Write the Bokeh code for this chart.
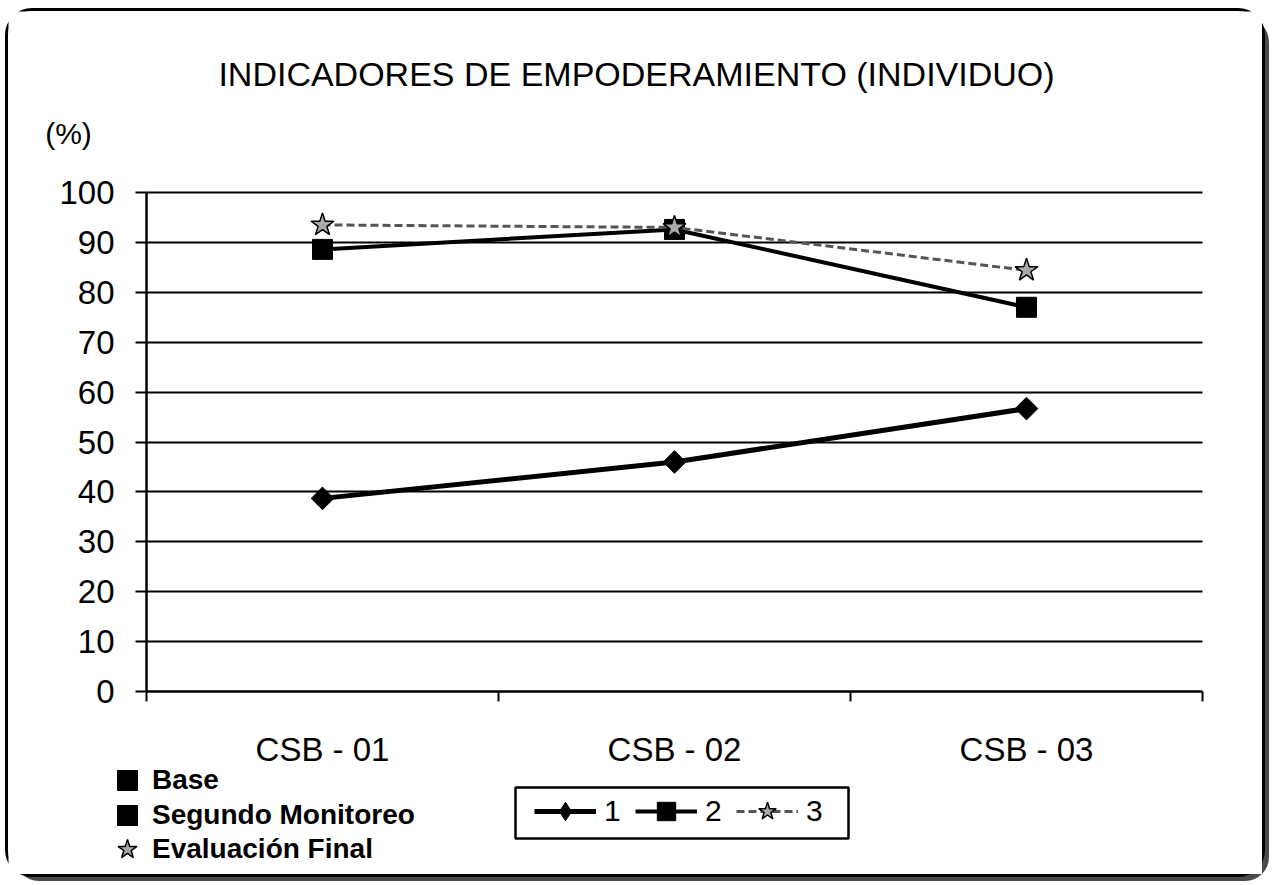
import math
from bokeh.plotting import figure
from bokeh.models import (Range1d, FixedTicker, Legend, LegendItem, Label, BoxAnnotation,
                          LinearAxis, Grid)
from bokeh.embed import file_html
from bokeh.resources import INLINE

# ---- data ----
categories = ["CSB - 01", "CSB - 02", "CSB - 03"]
serie_1 = [38.7, 46.0, 56.7]
serie_2 = [88.6, 92.6, 77.0]
serie_3 = [93.5, 93.0, 84.4]
series_names = ["1", "2", "3"]
estados = ["Base", "Segundo Monitoreo", "Evaluación Final"]
y_ticks = [0, 10, 20, 30, 40, 50, 60, 70, 80, 90, 100]
title_text = "INDICADORES DE EMPODERAMIENTO (INDIVIDUO)"
unit_text = "(%)"

FONT = "Liberation Sans"

# ---- page layout (pixels) ----
W, H = 1254, 863            # canvas size
PX_L, PX_R = 138, 1194      # plot area left / right inside canvas
PX_T, PX_B = 181, 680       # plot area top (y=100) / bottom (y=0) inside canvas

n = len(categories)
ux = (PX_R - PX_L) / n
uy = (PX_B - PX_T) / 100.0
x_range = Range1d(-PX_L / ux, n + (W - PX_R) / ux)
y_range = Range1d(-(H - PX_B) / uy, 100 + PX_T / uy)

x_pos = [i + 0.5 for i in range(n)]
bounds = [i for i in range(n + 1)]

p = figure(width=W, height=H, output_backend="svg", toolbar_location=None,
           x_axis_type=None, y_axis_type=None, x_range=x_range, y_range=y_range,
           min_border=0, min_border_left=0, min_border_right=0,
           min_border_top=0, min_border_bottom=0)
p.title.text = ""
p.background_fill_color = "white"
p.border_fill_color = "white"
p.outline_line_color = None
p.styles = {"outline": "3px solid black", "border-radius": "24px",
            "box-shadow": "7px 7px 0 0 #4a4a4a",
            "margin-left": "8px", "margin-top": "11px"}

# x axis (category axis drawn at y = 0)
xa = LinearAxis(fixed_location=0, bounds=(0, n),
                ticker=FixedTicker(ticks=x_pos, minor_ticks=bounds))
xa.major_label_overrides = {float(x): c for x, c in zip(x_pos, categories)}
xa.major_tick_line_color = None
xa.major_tick_out = 0
xa.major_tick_in = 0
xa.minor_tick_out = 10
xa.minor_tick_in = 0
xa.minor_tick_line_color = "black"
xa.minor_tick_line_width = 2
xa.axis_line_color = "black"
xa.axis_line_width = 2.5
xa.major_label_text_font = FONT
xa.major_label_text_font_size = "33px"
xa.major_label_text_color = "black"
xa.major_label_standoff = 29
p.add_layout(xa, "below")

# y axis drawn at x = 0
ya = LinearAxis(fixed_location=0, bounds=(0, 100),
                ticker=FixedTicker(ticks=y_ticks, minor_ticks=[]))
ya.major_tick_out = 11
ya.major_tick_in = 0
ya.major_tick_line_width = 2
ya.major_tick_line_color = "black"
ya.minor_tick_line_color = None
ya.axis_line_color = "black"
ya.axis_line_width = 2.5
ya.major_label_text_font = FONT
ya.major_label_text_font_size = "33px"
ya.major_label_text_color = "black"
ya.major_label_standoff = 21
p.add_layout(ya, "left")

grid = Grid(dimension=1, ticker=FixedTicker(ticks=y_ticks[1:]),
            grid_line_color="black", grid_line_width=2)
try:
    grid.cross_bounds = (0, n)
    p.add_layout(grid)
except Exception:
    ya.major_tick_in = int(round(PX_R - PX_L))

# ---- series ----
r1l = p.line(x_pos, serie_1, line_color="black", line_width=5)
r1m = p.scatter(x_pos, serie_1, marker="square", size=16, angle=math.pi / 4,
                fill_color="black", line_color="black")
# diamond drawn inside the rotated square (gives the legend its diamond glyph)
r1d = p.scatter(x_pos, serie_1, marker="diamond", size=18,
                fill_color="black", line_color="black")
r2l = p.line(x_pos, serie_2, line_color="black", line_width=4)
r2m = p.scatter(x_pos, serie_2, marker="square", size=20,
                fill_color="black", line_color="black")
r3l = p.line(x_pos, serie_3, line_color="#555555", line_width=3, line_dash="8 4")
r3m = p.scatter(x_pos, serie_3, marker="star", size=24,
                fill_color="#aaaaaa", line_color="black", line_width=1.5)

# ---- title and unit ----
p.add_layout(Label(x=628, y=801, x_units="screen", y_units="screen", text=title_text,
                   text_font=FONT, text_font_size="34px", text_color="black",
                   text_align="center", text_baseline="middle"))
p.add_layout(Label(x=60, y=741, x_units="screen", y_units="screen", text=unit_text,
                   text_font=FONT, text_font_size="30px", text_color="black",
                   text_align="center", text_baseline="middle"))

# ---- state legend (bold, left) : one legend per row ----
state_renderers = [r2m, r2m, r3m]
state_rows_y = [69, 34, 0]
for label, rend, yy in zip(estados, state_renderers, state_rows_y):
    lg = Legend(items=[LegendItem(label=label, renderers=[rend])],
                location=(94, yy), orientation="vertical",
                border_line_color=None, background_fill_alpha=0,
                label_text_font=FONT, label_text_font_size="28px",
                label_text_font_style="bold", label_text_color="black",
                glyph_width=50, glyph_height=50, label_standoff=0,
                spacing=0, padding=0, margin=0)
    p.add_layout(lg, "center")

# ---- boxed series legend ----
p.add_layout(BoxAnnotation(left=507, right=840, bottom=36, top=87,
                           left_units="screen", right_units="screen",
                           bottom_units="screen", top_units="screen",
                           fill_color=None, fill_alpha=0,
                           line_color="black", line_width=2.5, line_alpha=1))

leg_series = Legend(items=[LegendItem(label=series_names[0], renderers=[r1l, r1d]),
                           LegendItem(label=series_names[1], renderers=[r2l, r2m]),
                           LegendItem(label=series_names[2], renderers=[r3l, r3m])],
                    orientation="horizontal", location=(526, 40),
                    border_line_color=None, background_fill_alpha=0,
                    label_text_font=FONT, label_text_font_size="30px",
                    label_text_color="black",
                    glyph_width=62, glyph_height=46, label_standoff=8,
                    spacing=11, padding=0, margin=0)
p.add_layout(leg_series, "center")

open("out.html", "w").write(file_html(p, INLINE))
